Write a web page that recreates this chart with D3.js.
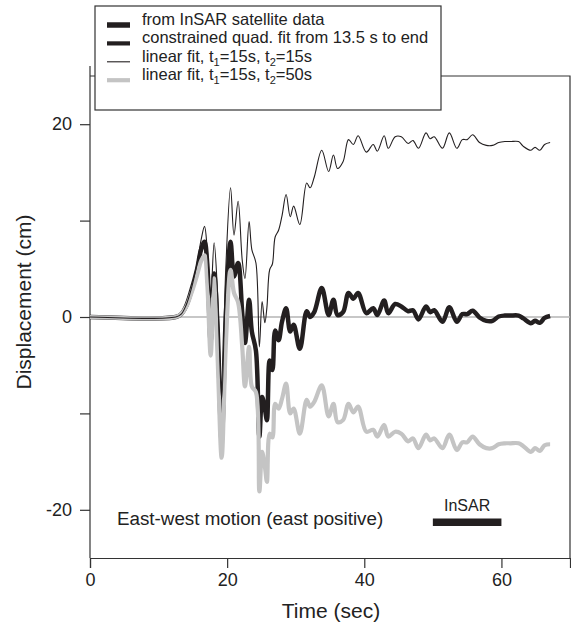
<!DOCTYPE html>
<html>
<head>
<meta charset="utf-8">
<script src="https://cdn.jsdelivr.net/npm/d3@7"></script>
<style>
  body { margin: 0; background: #fff; }
  svg { font-family: "Liberation Sans", Arial, Helvetica, sans-serif; }
</style>
</head>
<body>
<div class="chart"></div>
<script>
// sample times (s), shared by the three traces
const times = [0, 12.5, 13.3, 14.0, 14.8, 15.6, 16.2, 16.7, 17.1, 17.6, 18.1, 18.6, 19.2, 19.8, 20.5, 21.0, 21.6, 22.2, 22.6, 23.2, 23.6, 24.2, 24.7, 25.1, 25.5, 25.8, 26.2, 26.6, 27.0, 27.5, 28.0, 28.6, 29.2, 29.7, 30.6, 31.6, 32.1, 32.7, 33.8, 34.8, 35.5, 36.1, 36.9, 37.7, 38.4, 39.1, 40.3, 41.3, 41.9, 42.9, 43.5, 44.5, 45.4, 46.4, 47.1, 47.9, 49.0, 49.6, 50.2, 51.4, 52.4, 53.5, 54.3, 55.0, 55.8, 56.8, 57.8, 58.7, 59.6, 60.5, 61.3, 62.5, 63.2, 64.3, 64.9, 65.6, 66.3, 67.1];

// constrained quad. fit from 13.5 s (cm)
const quadFit = [0, 0, 0.3, 1.1, 2.8, 4.9, 7.0, 7.8, 5.5, -2.5, 4.5, -1, -12.8, 0, 7.8, 4.2, 5.6, 0.4, -2.7, 1.8, -1.5, -3.5, -12.4, -8.3, -9.5, -10.7, -4.5, -5.5, -1.4, -2.4, -0.5, 0.9, -1.5, -0.8, -3.3, 0.6, 0.0, 0.5, 3.0, 0.2, 1.8, 0.2, 0.5, 2.5, 1.9, 2.5, 0.4, 0.9, 0.2, 1.7, 0.4, 1.35, 1.1, 0.6, 0.7, -0.25, 1.1, 0.5, 0.7, -0.5, 1.0, -0.5, 0.3, 0.3, 0.65, -0.05, -0.4, -0.4, 0.05, 0.15, 0.15, 0.15, -0.15, -0.65, -0.4, -0.6, -0.1, 0.1];

// linear fit, t1=15s, t2=15s (cm)
const linFit15 = [0, 0, 0.3, 1.2, 3.0, 5.5, 8.0, 9.4, 7.0, 2.0, 7.7, 2.5, -8.5, 5, 13.4, 8.5, 12.0, 5.9, 4.0, 9.9, 7.0, 5.6, -3.1, 1.6, -0.6, 1.0, 4.9, 5.5, 8.3, 9.0, 10.5, 12.7, 10.4, 11.5, 9.6, 13.9, 13.4, 14.5, 17.3, 15.1, 16.8, 15.4, 16.1, 18.4, 17.9, 18.8, 17.1, 17.9, 17.2, 18.8, 17.5, 18.7, 18.7, 18.0, 18.3, 17.5, 19.1, 18.5, 18.7, 17.5, 19.1, 17.5, 18.4, 18.4, 18.9, 18.1, 17.8, 17.8, 18.1, 18.2, 18.2, 18.2, 17.7, 17.3, 17.6, 17.3, 17.9, 18.1];

// linear fit, t1=15s, t2=50s (cm)
const linFit50 = [0, 0, 0.3, 1.0, 2.5, 4.3, 5.8, 6.4, 3.5, -4.0, 4.0, -4.0, -14.6, -3, 4.9, 2.5, 1.5, -3.1, -7.2, -3.1, -7.2, -7.8, -18.1, -14.0, -15.5, -17.1, -12.1, -12.5, -9.0, -9.5, -8.5, -6.9, -10.0, -9.5, -12.1, -8.6, -9.3, -8.8, -7.1, -10.3, -9.0, -10.9, -10.7, -9.0, -9.9, -9.3, -11.9, -11.7, -12.4, -11.2, -12.4, -11.9, -12.1, -12.9, -12.6, -13.6, -12.2, -12.8, -12.6, -13.6, -12.2, -13.8, -13.0, -13.0, -12.4, -13.2, -13.6, -13.6, -13.2, -13.1, -13.1, -13.1, -13.4, -14.0, -13.6, -13.9, -13.3, -13.2];

// InSAR window and level
const insarWindow = [50, 60];
const insarLevel = -21.3;

const xTicks = [0, 20, 40, 60];
const yTicks = [-20, -10, 0, 10, 20];
const yLabelled = [-20, 0, 20];

const legendNames = [
  [{ t: 'from InSAR satellite data' }],
  [{ t: 'constrained quad. fit from 13.5 s to end' }],
  [{ t: 'linear fit, t' }, { t: '1', sub: true }, { t: '=15s, t' }, { t: '2', sub: true }, { t: '=15s' }],
  [{ t: 'linear fit, t' }, { t: '1', sub: true }, { t: '=15s, t' }, { t: '2', sub: true }, { t: '=50s' }]
];
const legendStyles = [
  { stroke: '#231f20', w: 5.5 },
  { stroke: '#231f20', w: 4.2 },
  { stroke: '#231f20', w: 1.1 },
  { stroke: '#c4c4c4', w: 4.2 }
];

const svg = d3.select('.chart')
  .append('svg')
    .attr('width', 571)
    .attr('height', 628);

const x = d3.scaleLinear().domain([0, 70]).range([90, 570]);
const y = d3.scaleLinear().domain([-25, 25]).range([558, 76]);

const axisColor = '#333';

// frame (top / right)
svg.append('path')
  .attr('d', `M${x(0)},${y(25)}H${x(70)}V${y(-25)}`)
  .attr('fill', 'none')
  .attr('stroke', axisColor)
  .attr('stroke-width', 1.2);

// zero line
svg.append('line')
  .attr('x1', x(0)).attr('x2', x(70))
  .attr('y1', y(0)).attr('y2', y(0))
  .attr('stroke', '#b5b5b5')
  .attr('stroke-width', 1.6);

const xAxis = svg.append('g')
  .attr('transform', `translate(0,${y(-25)})`)
  .call(d3.axisBottom(x).tickValues(xTicks).tickSize(10).tickPadding(5));

const yAxis = svg.append('g')
  .attr('transform', `translate(${x(0)},0)`)
  .call(d3.axisLeft(y).tickValues(yTicks).tickSize(10).tickPadding(8)
    .tickFormat(d => yLabelled.includes(d) ? d : ''));

[xAxis, yAxis].forEach(g => {
  g.select('.domain').attr('stroke', axisColor).attr('stroke-width', 1.2);
  g.selectAll('.tick line').attr('stroke', axisColor).attr('stroke-width', 1.2);
  g.selectAll('.tick text')
    .attr('fill', '#222')
    .style('font-size', '18px')
    .style('font-family', '"Liberation Sans", Arial, sans-serif');
});
// y axis line pokes a little above the frame
yAxis.select('.domain').attr('d', `M0,66V${y(-25)}`);

// traces
const rows = times.map((t, i) => ({ t, q: quadFit[i], a: linFit15[i], b: linFit50[i] }));
const lineOf = key => d3.line()
  .x(d => x(d.t))
  .y(d => y(d[key]))
  .curve(d3.curveCatmullRom.alpha(0.5));

const plot = svg.append('g');

plot.append('path')
  .datum(rows)
  .attr('d', lineOf('q'))
  .attr('fill', 'none')
  .attr('stroke', '#231f20')
  .attr('stroke-width', 4.5)
  .attr('stroke-linejoin', 'round');

plot.append('path')
  .datum(rows)
  .attr('d', lineOf('b'))
  .attr('fill', 'none')
  .attr('stroke', '#c4c4c4')
  .attr('stroke-width', 4.2)
  .attr('stroke-linejoin', 'round');

plot.append('path')
  .datum(rows)
  .attr('d', lineOf('a'))
  .attr('fill', 'none')
  .attr('stroke', '#231f20')
  .attr('stroke-width', 1.1);

// InSAR bar
svg.append('line')
  .attr('x1', x(insarWindow[0])).attr('x2', x(insarWindow[1]))
  .attr('y1', y(insarLevel)).attr('y2', y(insarLevel))
  .attr('stroke', '#231f20')
  .attr('stroke-width', 7.5);

svg.append('text')
  .attr('x', x(d3.mean(insarWindow)))
  .attr('y', 511)
  .attr('text-anchor', 'middle')
  .style('font-size', '16px')
  .attr('fill', '#222')
  .text('InSAR');

svg.append('text')
  .attr('x', 117)
  .attr('y', 525)
  .style('font-size', '18.8px')
  .attr('fill', '#222')
  .text('East-west motion (east positive)');

// axis titles
svg.append('text')
  .attr('x', 331)
  .attr('y', 618)
  .attr('text-anchor', 'middle')
  .style('font-size', '21px')
  .attr('fill', '#222')
  .text('Time (sec)');

svg.append('text')
  .attr('transform', 'translate(31,302) rotate(-90)')
  .attr('text-anchor', 'middle')
  .style('font-size', '21px')
  .attr('fill', '#222')
  .text('Displacement (cm)');

// legend
const legend = svg.append('g');
legend.append('rect')
  .attr('x', 95).attr('y', 6)
  .attr('width', 346).attr('height', 104)
  .attr('fill', '#fff')
  .attr('stroke', axisColor)
  .attr('stroke-width', 1.2);

const items = legend.selectAll('.item')
  .data(legendNames)
  .enter()
  .append('g')
    .attr('transform', (d, i) => `translate(0,${25 + i * 18.4})`);

items.append('line')
  .attr('x1', 107).attr('x2', 130)
  .attr('stroke', (d, i) => legendStyles[i].stroke)
  .attr('stroke-width', (d, i) => legendStyles[i].w);

const labels = items.append('text')
  .attr('x', 142)
  .attr('dy', '0.36em')
  .style('font-size', '16.5px')
  .attr('fill', '#222');

labels.selectAll('tspan')
  .data(d => d)
  .enter()
  .append('tspan')
    .style('font-size', d => d.sub ? '11px' : null)
    .attr('dy', (d, i, n) => {
      if (d.sub) return 4;
      const prev = n[i - 1] && d3.select(n[i - 1]).datum();
      return prev && prev.sub ? -4 : 0;
    })
    .text(d => d.t);
</script>
</body>
</html>
